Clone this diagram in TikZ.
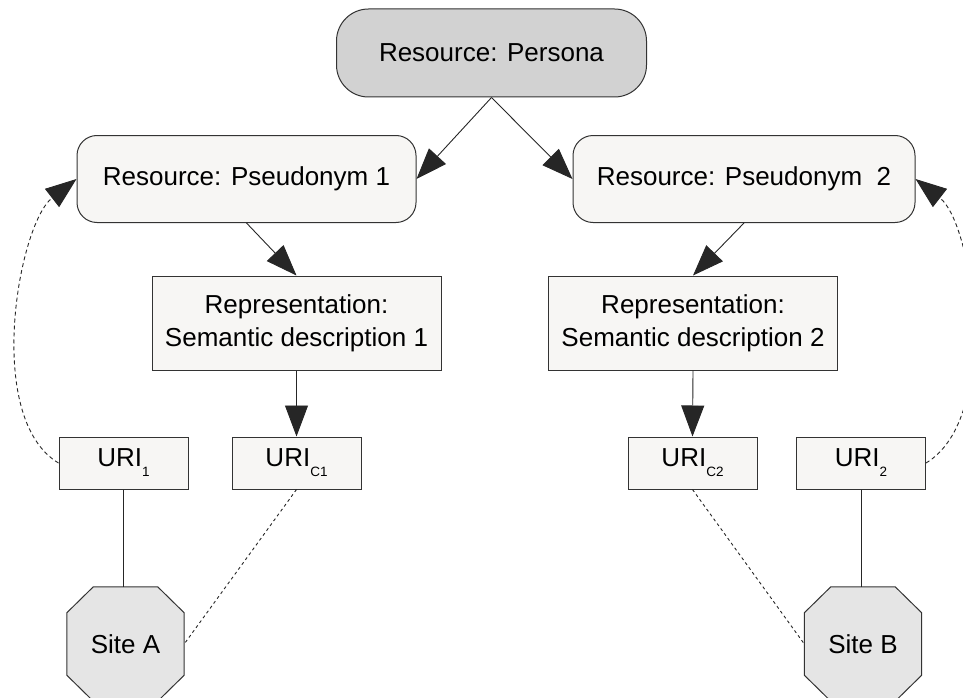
\documentclass[tikz,border=0pt]{standalone}
\usepackage{fontspec}
\setmainfont{Liberation Sans}
\usetikzlibrary{arrows.meta,backgrounds}
\definecolor{boxfill}{HTML}{F7F6F4}
\definecolor{personafill}{HTML}{D2D2D2}
\definecolor{sitefill}{HTML}{E5E5E5}
\definecolor{edgecol}{HTML}{333333}
\newcommand{\urisub}[1]{URI\raisebox{-10pt}{\fontsize{13.5}{13.5}\selectfont #1}}
\begin{document}
\begin{tikzpicture}[x=1pt,y=-1pt,
  every node/.style={font=\fontsize{26}{33}\selectfont, inner sep=0pt, align=center},
  personabox/.style={draw=edgecol, line width=1pt, fill=personafill, rounded corners=32pt, minimum width=310pt, minimum height=88pt},
  pseudobox/.style={draw=edgecol, line width=1pt, fill=boxfill, rounded corners=20pt, minimum height=87pt},
  repbox/.style={draw=edgecol, line width=1pt, fill=boxfill, minimum width=289pt, minimum height=94pt},
  uribox/.style={draw=edgecol, line width=1pt, fill=boxfill, minimum width=129pt, minimum height=52pt},
  sitebox/.style={minimum width=117pt, minimum height=114pt},
  octo/.style={draw=edgecol, line width=1pt, fill=sitefill},
  arr/.style={draw=black!85, line width=0.9pt, -{Triangle[length=31pt,width=23pt]}},
  dasharr/.style={draw=black!85, line width=0.9pt, dash pattern=on 4pt off 3pt, -{Triangle[length=31pt,width=23pt]}},
  plainline/.style={draw=black!85, line width=0.9pt},
  dashline/.style={draw=black!85, line width=0.9pt, dash pattern=on 3pt off 3pt}
]
\useasboundingbox (0,0) rectangle (963,698);

\node[personabox] (per) at (491.5,53) {Resource: Persona};
\node[pseudobox, minimum width=339pt] (ps1) at (246.5,179) {Resource: Pseudonym 1};
\node[pseudobox, minimum width=342pt] (ps2) at (744,179) {Resource: Pseudonym\ \ 2};
\node[repbox] (rep1) at (296.5,323) {Representation:\\Semantic description 1};
\node[repbox] (rep2) at (693,323) {Representation:\\Semantic description 2};
\node[uribox] (uri1) at (123.5,463) {\urisub{1}};
\node[uribox] (uric1) at (296.5,463) {\urisub{C1}};
\node[uribox] (uric2) at (692.5,463) {\urisub{C2}};
\node[uribox] (uri2) at (861,463) {\urisub{2}};
\node[sitebox] (sa) at (125.5,644) {Site A};
\node[sitebox] (sb) at (863,644) {Site B};

\begin{scope}[on background layer]
\foreach \s in {sa,sb}{
  \draw[octo] ([xshift=26.5pt]\s.north west) -- ([xshift=-26.5pt]\s.north east)
    -- ([yshift=-26pt]\s.north east) -- ([yshift=26pt]\s.south east)
    -- ([xshift=-26.5pt]\s.south east) -- ([xshift=26.5pt]\s.south west)
    -- ([yshift=26pt]\s.south west) -- ([yshift=-26pt]\s.north west) -- cycle;
}
\end{scope}

\draw[arr] (per.south) -- (ps1.east);
\draw[arr] (per.south) -- (ps2.west);
\draw[arr] (ps1.south) -- (rep1.north);
\draw[arr] (ps2.south) -- (rep2.north);
\draw[arr] (rep1.south) -- (uric1.north);
\draw[arr] (rep2.south) -- (uric2.north);

\draw[dasharr] (uri1.west) .. controls +(-75,-45) and +(-58,45) .. (ps1.west);
\draw[dasharr] (uri2.east) .. controls +(75,-45) and +(58,45) .. (ps2.east);

\draw[plainline] (uri1.south) -- (uri1.south |- sa.north);
\draw[plainline] (uri2.south) -- (uri2.south |- sb.north);
\draw[dashline] (uric1.south) -- (sa.east);
\draw[dashline] (uric2.south) -- (sb.west);
\end{tikzpicture}
\end{document}
